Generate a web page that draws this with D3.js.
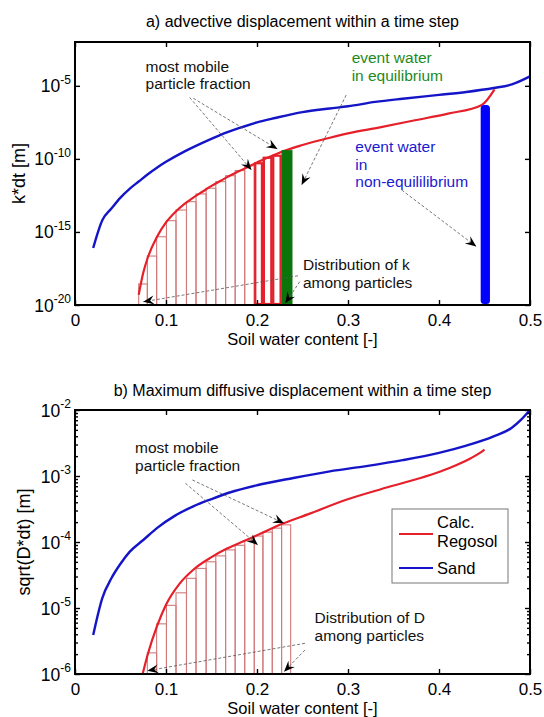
<!DOCTYPE html>
<html>
<head>
<meta charset="utf-8">
<script src="https://cdn.jsdelivr.net/npm/d3@7"></script>
<style>
  body { margin: 0; background: #fff; }
  svg { display: block; font-family: "Liberation Sans", Arial, sans-serif; }
</style>
</head>
<body>
<svg id="chart" width="544" height="717"></svg>
<script>
const thetaTicks = [0, 0.1, 0.2, 0.3, 0.4, 0.5];
const thetaTickLabels = ["0", "0.1", "0.2", "0.3", "0.4", "0.5"];

// panel a, values are log10(k*dt)
const sandThetaA = [0.02, 0.03, 0.04, 0.05, 0.06, 0.07, 0.08, 0.09, 0.10, 0.12, 0.14, 0.16, 0.18, 0.20, 0.22, 0.25, 0.28, 0.30, 0.33, 0.36, 0.40, 0.43, 0.46, 0.48, 0.50];
const sandLogA = [-16.1, -14.2, -13.4, -12.65, -12.05, -11.55, -11.05, -10.6, -10.2, -9.5, -8.9, -8.35, -7.9, -7.5, -7.2, -6.8, -6.55, -6.4, -6.1, -5.88, -5.62, -5.42, -5.15, -4.9, -4.35];
const regThetaA = [0.070, 0.075, 0.080, 0.090, 0.100, 0.110, 0.120, 0.130, 0.140, 0.150, 0.160, 0.170, 0.180, 0.190, 0.200, 0.210, 0.220, 0.230, 0.250, 0.280, 0.300, 0.335, 0.375, 0.410, 0.447, 0.461];
const regLogA = [-19.3, -17.8, -16.75, -15.35, -14.35, -13.65, -13.1, -12.65, -12.25, -11.85, -11.5, -11.15, -10.85, -10.55, -10.25, -9.95, -9.7, -9.45, -9.05, -8.55, -8.25, -7.84, -7.34, -6.9, -6.31, -5.24];

// particle classes (bin edges in theta), panel a uses edges 0..15, panel b edges 1..16
const binEdges = [0.070, 0.0795, 0.0897, 0.1005, 0.111, 0.1225, 0.133, 0.1441, 0.1547, 0.1655, 0.176, 0.1865, 0.197, 0.2065, 0.2168, 0.227, 0.237];
const binTopsA = [-18.56, -16.65, -15.33, -14.23, -13.5, -12.93, -12.4, -12.01, -11.56, -11.15, -10.8, -10.47, -10.3, -9.92, -9.78];
const mobileBinsA = [12, 13, 14];
const eqBarA = [0.227, 0.239, -9.4];
const neqBarA = [0.4458, 0.456, -6.31];

// panel b, values are log10(sqrt(D*dt))
const sandThetaB = [0.02, 0.03, 0.04, 0.05, 0.06, 0.075, 0.09, 0.11, 0.13, 0.15, 0.17, 0.20, 0.24, 0.28, 0.32, 0.36, 0.40, 0.43, 0.46, 0.48, 0.49, 0.50];
const sandLogB = [-5.41, -4.85, -4.55, -4.33, -4.15, -3.97, -3.79, -3.6, -3.46, -3.35, -3.25, -3.14, -3.03, -2.93, -2.85, -2.76, -2.65, -2.54, -2.4, -2.27, -2.15, -2.0];
const regThetaB = [0.0743, 0.08, 0.09, 0.10, 0.115, 0.13, 0.15, 0.167, 0.185, 0.203, 0.225, 0.258, 0.298, 0.336, 0.375, 0.40, 0.42, 0.435, 0.445, 0.45];
const regLogB = [-6.0, -5.7, -5.28, -4.95, -4.63, -4.42, -4.23, -4.1, -3.99, -3.88, -3.74, -3.57, -3.36, -3.2, -3.05, -2.94, -2.83, -2.73, -2.65, -2.6];
const binTopsB = [-5.68, -5.24, -4.96, -4.77, -4.55, -4.4, -4.3, -4.21, -4.12, -4.05, -3.98, -3.91, -3.85, -3.79, -3.74];

// annotations: [theta, log10] of text / arrow start and end
const notesA = [
  { lines: ["most mobile", "particle fraction"], at: [0.0775, -4.03], color: "#111" },
  { lines: ["event water", "in equilibrium"], at: [0.304, -3.46], color: "#1e8a1e" },
  { lines: ["event water", "in", "non-equililibrium"], at: [0.308, -9.51], color: "#1a1ad2" },
  { lines: ["Distribution of k", "among particles"], at: [0.2505, -17.6], color: "#111" }
];
const arrowsA = [
  [0.126, -5.8, 0.194, -10.76],
  [0.130, -5.85, 0.2225, -9.33],
  [0.298, -5.63, 0.249, -11.79],
  [0.359, -12.13, 0.441, -16.0],
  [0.245, -18.0, 0.075, -19.78],
  [0.247, -18.4, 0.231, -19.88]
];
const notesB = [
  { lines: ["most mobile", "particle fraction"], at: [0.066, -2.656], color: "#111" },
  { lines: ["Distribution of D", "among particles"], at: [0.2633, -5.23], color: "#111" }
];
const arrowsB = [
  [0.1213, -3.11, 0.201, -4.045],
  [0.129, -3.06, 0.2297, -3.717],
  [0.2527, -5.535, 0.0795, -5.95],
  [0.2527, -5.636, 0.2297, -5.965]
];

const legendNames = [["Calc.", "Regosol"], ["Sand"]];
const RED = "#e5202a";
const BLUE = "#1515c8";
const BAR_PINK = "#d27a7a";

const svg = d3.select("#chart");

svg.append("defs").append("marker")
  .attr("id", "head")
  .attr("markerUnits", "userSpaceOnUse")
  .attr("markerWidth", 14).attr("markerHeight", 12)
  .attr("viewBox", "-12 -6 14 12")
  .attr("refX", 0).attr("refY", 0)
  .attr("orient", "auto")
  .append("path")
  .attr("d", "M0,0 L-11,-4.5 L-7,0 L-11,4.5 Z")
  .attr("fill", "#000");

const zip = (xs, ys) => xs.map((t, i) => [t, ys[i]]);

function drawPanel(p) {
  const x = d3.scaleLinear().domain([0, 0.5]).range([75, 530]);
  const y = d3.scaleLog().domain(p.yDomain).range([p.bottom, p.top]);
  const ly = v => y(Math.pow(10, v));
  const g = svg.append("g");

  g.append("text")
    .attr("x", 302.5).attr("y", p.titleY)
    .attr("text-anchor", "middle")
    .attr("font-size", 16)
    .text(p.title);

  // particle class bars
  const bars = p.tops.map((t, i) => ({ x0: p.edges[i], x1: p.edges[i + 1], top: t, i }));
  g.selectAll(".bar").data(bars).join("rect")
    .attr("x", d => x(d.x0))
    .attr("y", d => ly(d.top))
    .attr("width", d => x(d.x1) - x(d.x0))
    .attr("height", d => p.bottom - ly(d.top))
    .attr("fill", "none")
    .attr("stroke", BAR_PINK)
    .attr("stroke-width", 1.1);

  if (p.mobile) {
    g.selectAll(".mob").data(bars.filter(d => p.mobile.includes(d.i))).join("rect")
      .attr("x", d => x(d.x0) + 1)
      .attr("y", d => ly(d.top))
      .attr("width", d => x(d.x1) - x(d.x0) - 2)
      .attr("height", d => p.bottom - ly(d.top) - 1)
      .attr("fill", "none")
      .attr("stroke", RED)
      .attr("stroke-width", 2.2);
  }

  const line = d3.line().x(d => x(d[0])).y(d => ly(d[1])).curve(d3.curveMonotoneX);
  g.append("path").datum(p.sand).attr("d", line)
    .attr("fill", "none").attr("stroke", BLUE).attr("stroke-width", 2.4);
  g.append("path").datum(p.reg).attr("d", line)
    .attr("fill", "none").attr("stroke", RED).attr("stroke-width", 2.2);

  if (p.eq) {
    g.append("rect")
      .attr("x", x(p.eq[0])).attr("y", ly(p.eq[2]))
      .attr("width", x(p.eq[1]) - x(p.eq[0]))
      .attr("height", p.bottom - ly(p.eq[2]))
      .attr("fill", "#0b740b");
  }
  if (p.neq) {
    g.append("rect")
      .attr("x", x(p.neq[0])).attr("y", ly(p.neq[2]))
      .attr("width", x(p.neq[1]) - x(p.neq[0]))
      .attr("height", p.bottom - ly(p.neq[2]) - 1)
      .attr("rx", 3.5)
      .attr("fill", "#0000ff");
  }

  // frame and inward ticks
  const tickStyle = sel => {
    sel.select(".domain").remove();
    sel.selectAll(".tick line").attr("stroke", "#000").attr("stroke-width", 1.4);
  };
  g.append("g").attr("transform", `translate(0,${p.bottom})`)
    .call(d3.axisBottom(x).tickValues(thetaTicks).tickSizeInner(-5).tickSizeOuter(0).tickPadding(21)
      .tickFormat((d, i) => thetaTickLabels[i]))
    .call(tickStyle)
    .call(s => s.selectAll("text").attr("font-size", 17).attr("fill", "#000").attr("dy", 0));
  g.append("g").attr("transform", `translate(0,${p.top})`)
    .call(d3.axisTop(x).tickValues(thetaTicks).tickSize(-5).tickFormat(""))
    .call(tickStyle);

  const major = p.yExp.map(e => Math.pow(10, e));
  g.append("g").attr("transform", "translate(75,0)")
    .call(d3.axisLeft(y).tickValues(major).tickSize(-5).tickFormat(""))
    .call(tickStyle);
  g.append("g").attr("transform", "translate(530,0)")
    .call(d3.axisRight(y).tickValues(major).tickSize(-5).tickFormat(""))
    .call(tickStyle);
  if (p.minor) {
    const minor = [];
    p.yExp.slice(0, -1).forEach(e => {
      for (let k = 2; k <= 9; k++) minor.push(k * Math.pow(10, e));
    });
    g.append("g").attr("transform", "translate(75,0)")
      .call(d3.axisLeft(y).tickValues(minor).tickSize(-3).tickFormat(""))
      .call(tickStyle);
    g.append("g").attr("transform", "translate(530,0)")
      .call(d3.axisRight(y).tickValues(minor).tickSize(-3).tickFormat(""))
      .call(tickStyle);
  }

  const yl = g.selectAll(".ylab").data(p.yExp).join("text")
    .attr("x", 71).attr("y", e => ly(e) + 6.5)
    .attr("text-anchor", "end")
    .attr("font-size", 17.5);
  yl.append("tspan").text("10");
  yl.append("tspan").attr("dy", -8.5).attr("font-size", 12).text(e => String(e));

  g.append("rect")
    .attr("x", 75).attr("y", p.top)
    .attr("width", 455).attr("height", p.bottom - p.top)
    .attr("fill", "none").attr("stroke", "#000").attr("stroke-width", 2);

  g.append("text")
    .attr("x", 302.5).attr("y", p.bottom + 40)
    .attr("text-anchor", "middle").attr("font-size", 16.5)
    .text("Soil water content [-]");
  g.append("text")
    .attr("transform", `translate(${p.yLabelX},${(p.top + p.bottom) / 2}) rotate(-90)`)
    .attr("text-anchor", "middle").attr("font-size", 18)
    .text(p.yLabel);

  // annotations
  g.selectAll(".arrow").data(p.arrows).join("line")
    .attr("x1", d => x(d[0])).attr("y1", d => ly(d[1]))
    .attr("x2", d => x(d[2])).attr("y2", d => ly(d[3]))
    .attr("stroke", "#555").attr("stroke-width", 0.8)
    .attr("stroke-dasharray", "3,2")
    .attr("marker-end", "url(#head)");

  p.notes.forEach(n => {
    const t = g.append("text")
      .attr("x", x(n.at[0])).attr("y", ly(n.at[1]))
      .attr("font-size", 15.5).attr("fill", n.color);
    n.lines.forEach((s, i) => {
      t.append("tspan").attr("x", x(n.at[0])).attr("dy", i === 0 ? 0 : 17.8).text(s);
    });
  });
  return g;
}

drawPanel({
  title: "a) advective displacement within a time step",
  titleY: 27, top: 42, bottom: 305,
  yDomain: [1e-20, 1e-2], yExp: [-20, -15, -10, -5], minor: false,
  yLabel: "k*dt [m]", yLabelX: 25,
  sand: zip(sandThetaA, sandLogA), reg: zip(regThetaA, regLogA),
  edges: binEdges.slice(0, 16), tops: binTopsA, mobile: mobileBinsA,
  eq: eqBarA, neq: neqBarA,
  notes: notesA, arrows: arrowsA
});

const gb = drawPanel({
  title: "b) Maximum diffusive displacement within a time step",
  titleY: 396, top: 410, bottom: 674,
  yDomain: [1e-6, 1e-2], yExp: [-6, -5, -4, -3, -2], minor: true,
  yLabel: "sqrt(D*dt) [m]", yLabelX: 30,
  sand: zip(sandThetaB, sandLogB), reg: zip(regThetaB, regLogB),
  edges: binEdges.slice(1), tops: binTopsB, mobile: null,
  eq: null, neq: null,
  notes: notesB, arrows: arrowsB
});

// legend
const leg = gb.append("g").attr("transform", "translate(392,509)");
leg.append("rect").attr("width", 116).attr("height", 74)
  .attr("fill", "#fff").attr("stroke", "#777").attr("stroke-width", 1);
const legColors = [RED, BLUE];
const legLineY = [25, 59];
legendNames.forEach((names, i) => {
  leg.append("line").attr("x1", 7).attr("x2", 41)
    .attr("y1", legLineY[i]).attr("y2", legLineY[i])
    .attr("stroke", legColors[i]).attr("stroke-width", 2.2);
  names.forEach((s, j) => {
    leg.append("text")
      .attr("x", 45)
      .attr("y", names.length === 1 ? legLineY[i] + 6 : 19 + j * 18.5)
      .attr("font-size", 16.5)
      .text(s);
  });
});
</script>
</body>
</html>
